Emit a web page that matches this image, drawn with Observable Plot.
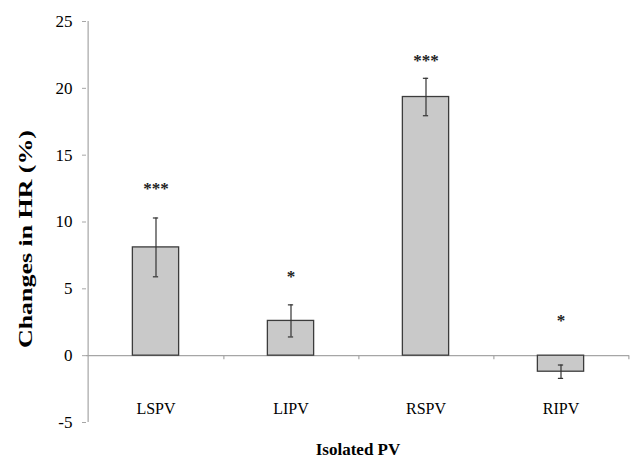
<!DOCTYPE html>
<html>
<head>
<meta charset="utf-8">
<script src="https://cdn.jsdelivr.net/npm/d3@7"></script>
<script src="https://cdn.jsdelivr.net/npm/@observablehq/plot@0.6"></script>
<style>
  html, body { margin: 0; padding: 0; background: #fff; }
  #chart svg { display: block; }
</style>
</head>
<body>
<div id="chart"></div>
<script>
// ---- data ----
const categories = ["LSPV", "LIPV", "RSPV", "RIPV"];
const values = [8.1, 2.6, 19.35, -1.2];
const errors = [2.2, 1.2, 1.4, 0.5];
const sigLabels = ["***", "*", "***", "*"];
const sigY = [12.8, 6.2, 22.4, 2.9];
const yTicks = [-5, 0, 5, 10, 15, 20, 25];
const xTitle = "Isolated PV";
const yTitle = "Changes in HR (%)";

const data = categories.map((c, i) => ({
  cat: c, v: values[i], e: errors[i], sig: sigLabels[i], sy: sigY[i]
}));

const W = 630, H = 459;
const mL = 86, mR = 1, mT = 21, mB = 37;
const bw = (W - mL - mR) / categories.length;
const barW = 47;
const capHalf = 3;
const axisGray = "#a6a6a6";
const serif = "Liberation Serif, Tinos, Times New Roman, DejaVu Serif, serif";

const chart = Plot.plot({
  width: W,
  height: H,
  marginLeft: mL,
  marginRight: mR,
  marginTop: mT,
  marginBottom: mB,
  style: `font-family: ${serif}; background: #fff;`,
  x: { domain: categories, padding: 0, axis: null },
  y: { domain: [yTicks[0], yTicks[yTicks.length - 1]], axis: null },
  marks: [
    Plot.ruleY([0], { stroke: axisGray, strokeWidth: 1.2 }),
    Plot.ruleX(categories, { x: d => d, y1: 0, y2: 0, insetBottom: -4, dx: bw / 2, stroke: axisGray, strokeWidth: 1.2 }),
    Plot.ruleX([categories[0]], { x: d => d, y1: yTicks[0], y2: yTicks[yTicks.length - 1], dx: -bw / 2, stroke: axisGray, strokeWidth: 1.2 }),
    Plot.barY(data, {
      x: "cat", y: "v",
      fill: "#c9c9c9", stroke: "#3c3c3c", strokeWidth: 1.3,
      insetLeft: (bw - barW) / 2, insetRight: (bw - barW) / 2
    }),
    Plot.ruleX(data, { x: "cat", y1: d => d.v - d.e, y2: d => d.v + d.e, stroke: "#333", strokeWidth: 1.2 }),
    Plot.tickY(data, { x: "cat", y: d => d.v + d.e, stroke: "#333", strokeWidth: 1.2, insetLeft: bw / 2 - capHalf, insetRight: bw / 2 - capHalf }),
    Plot.tickY(data, { x: "cat", y: d => d.v - d.e, stroke: "#333", strokeWidth: 1.2, insetLeft: bw / 2 - capHalf, insetRight: bw / 2 - capHalf }),
    Plot.text(data, { x: "cat", y: "sy", text: "sig", fontSize: 17, fontWeight: "bold", fill: "#222", dy: 4 }),
    Plot.axisY({ ticks: yTicks, tickSize: 4, tickPadding: 10, stroke: axisGray, fill: "#000", fontSize: 17, label: null, tickFormat: d => String(d) }),
    Plot.axisX({ anchor: "bottom", tickSize: 0, tickPadding: 0, dy: -20, fontSize: 16, fill: "#000", label: null }),
    Plot.text([xTitle], { frameAnchor: "bottom", dy: 32, fontSize: 17, fontWeight: "bold", fill: "#000" }),
    Plot.text([yTitle], { frameAnchor: "left", rotate: -90, textAnchor: "start", dx: -61, dy: 126, fontSize: 19, fontWeight: "bold", fill: "#000", className: "ytitle" })
  ]
});

document.getElementById("chart").appendChild(chart);
d3.select(chart).selectAll("text").style("font-family", serif);
d3.select(chart).selectAll(".ytitle text")
  .attr("textLength", 218)
  .attr("lengthAdjust", "spacingAndGlyphs");
</script>
</body>
</html>
